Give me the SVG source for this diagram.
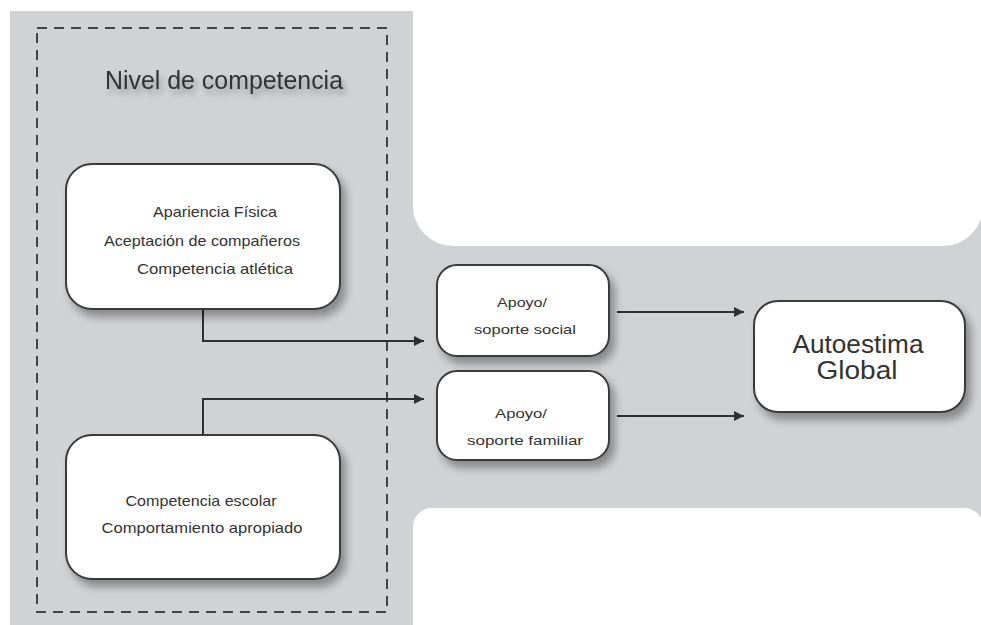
<svg xmlns="http://www.w3.org/2000/svg" width="981" height="625" viewBox="0 0 981 625">
<defs>
<style>
.box{fill:#ffffff;stroke:#3a3a3a;stroke-width:2;filter:url(#sh)}
.t{font-family:"Liberation Sans","DejaVu Sans",sans-serif;fill:#333333;text-anchor:middle}
.s{font-size:15px}
.xs{font-size:13px}
.big{font-size:25px}
.con{fill:none;stroke:#2f2f2f;stroke-width:2;marker-end:url(#arr)}
</style>
<filter id="sh" x="-20%" y="-20%" width="150%" height="160%">
<feDropShadow dx="5" dy="7" stdDeviation="4" flood-color="#000" flood-opacity="0.35"/>
</filter>
<filter id="tsh" x="-10%" y="-30%" width="130%" height="180%">
<feDropShadow dx="3" dy="5" stdDeviation="3" flood-color="#000" flood-opacity="0.3"/>
</filter>
<marker id="arr" markerUnits="userSpaceOnUse" markerWidth="12" markerHeight="12" refX="10" refY="5" orient="auto">
<path d="M0,0 L10,5 L0,10 Z" fill="#2f2f2f"/>
</marker>
</defs>
<rect width="981" height="625" fill="#ffffff"/>
<g id="background">
<rect x="10" y="11" width="971" height="614" fill="#d1d2d4"/>
<path d="M413,0 V206 A40,40 0 0 0 453,246 H943 A40,40 0 0 0 983,206 V0 Z" fill="#ffffff"/>
<path d="M413,625 V527 A19,19 0 0 1 432,508 H964 A19,19 0 0 1 983,527 V625 Z" fill="#ffffff"/>
</g>
<g id="group-nivel">
<rect x="37" y="28" width="350" height="584" fill="none" stroke="#444444" stroke-width="2" stroke-dasharray="10 7"/>
<text class="t" x="224" y="89" font-size="25" textLength="238" lengthAdjust="spacingAndGlyphs" filter="url(#tsh)">Nivel de competencia</text>
</g>
<g id="connectors">
<path class="con" d="M203,310 V341 H424"/>
<path class="con" d="M203,436 V399 H424"/>
<path class="con" d="M617,312 H744"/>
<path class="con" d="M617,416 H744"/>
</g>
<g id="node-apariencia">
<rect class="box" x="66" y="164" width="274" height="145" rx="26"/>
<text class="t s" x="215" y="217" textLength="124" lengthAdjust="spacingAndGlyphs">Apariencia Física</text>
<text class="t s" x="202" y="246" textLength="196" lengthAdjust="spacingAndGlyphs">Aceptación de compañeros</text>
<text class="t s" x="215" y="274" textLength="156" lengthAdjust="spacingAndGlyphs">Competencia atlética</text>
</g>
<g id="node-escolar">
<rect class="box" x="66" y="435" width="274" height="144" rx="26"/>
<text class="t s" x="201" y="506" textLength="151" lengthAdjust="spacingAndGlyphs">Competencia escolar</text>
<text class="t s" x="202" y="533" textLength="201" lengthAdjust="spacingAndGlyphs">Comportamiento apropiado</text>
</g>
<g id="node-social">
<rect class="box" x="437" y="265" width="172" height="91" rx="20"/>
<text class="t xs" x="522" y="307" textLength="50" lengthAdjust="spacingAndGlyphs">Apoyo/</text>
<text class="t xs" x="525" y="334" textLength="102" lengthAdjust="spacingAndGlyphs">soporte social</text>
</g>
<g id="node-familiar">
<rect class="box" x="437" y="371" width="172" height="89" rx="20"/>
<text class="t xs" x="521" y="418" textLength="52" lengthAdjust="spacingAndGlyphs">Apoyo/</text>
<text class="t xs" x="525" y="445" textLength="116" lengthAdjust="spacingAndGlyphs">soporte familiar</text>
</g>
<g id="node-autoestima">
<rect class="box" x="754" y="301" width="211" height="111" rx="24"/>
<text class="t big" x="858" y="353" textLength="131" lengthAdjust="spacingAndGlyphs">Autoestima</text>
<text class="t big" x="857" y="379" textLength="81" lengthAdjust="spacingAndGlyphs">Global</text>
</g>
</svg>
